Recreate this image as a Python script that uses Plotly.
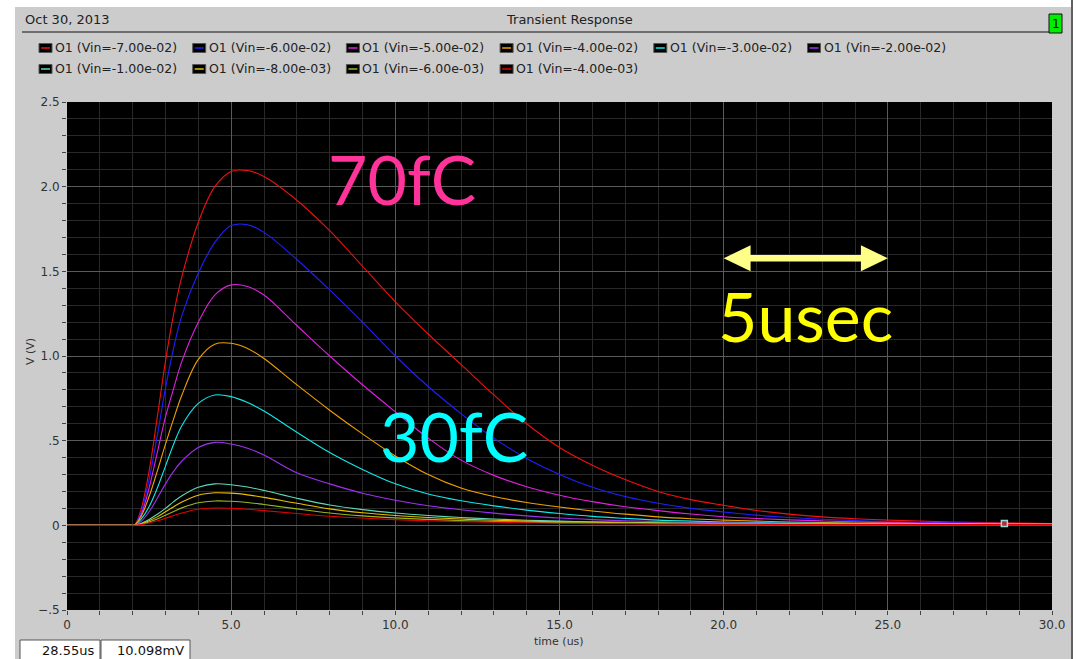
import plotly.graph_objects as go

# ---------------- data ----------------
time_us = [0, 1, 1.95, 2.05, 2.25, 2.5, 2.75, 3.0, 3.25, 3.5, 4.0, 4.5, 5.0, 5.5,
           6, 7, 8, 9, 10, 11, 12, 13, 14, 15, 16, 17, 18, 19, 20,
           21, 22, 23, 24, 25, 26, 27, 28, 29, 30]

vin_labels = ["-7.00e-02", "-6.00e-02", "-5.00e-02", "-4.00e-02", "-3.00e-02",
              "-2.00e-02", "-1.00e-02", "-8.00e-03", "-6.00e-03", "-4.00e-03"]

v_m70 = [0, 0, 0, 0, 0.09, 0.32, 0.64, 0.97, 1.25, 1.47, 1.79, 2.00, 2.09, 2.095,
         2.06, 1.92, 1.74, 1.53, 1.32, 1.13, 0.95, 0.77, 0.60, 0.46, 0.355, 0.27,
         0.20, 0.152, 0.118, 0.088, 0.066, 0.05, 0.039, 0.031, 0.025, 0.02, 0.016, 0.013, 0.011]
v_m60 = [0, 0, 0, 0, 0.075, 0.27, 0.53, 0.81, 1.05, 1.24, 1.49, 1.67, 1.77, 1.775,
         1.73, 1.57, 1.39, 1.20, 1.00, 0.82, 0.66, 0.515, 0.395, 0.30, 0.225, 0.17,
         0.13, 0.10, 0.079, 0.06, 0.046, 0.036, 0.028, 0.022, 0.018, 0.015, 0.012, 0.011, 0.010]
v_m50 = [0, 0, 0, 0, 0.06, 0.22, 0.43, 0.64, 0.81, 0.97, 1.20, 1.36, 1.42, 1.41,
         1.36, 1.18, 1.00, 0.83, 0.67, 0.515, 0.385, 0.295, 0.228, 0.178, 0.14, 0.11,
         0.087, 0.067, 0.051, 0.04, 0.032, 0.026, 0.021, 0.017, 0.014, 0.012, 0.011, 0.010, 0.009]
v_m40 = [0, 0, 0, 0, 0.05, 0.17, 0.32, 0.48, 0.63, 0.77, 0.98, 1.07, 1.075, 1.045,
         0.985, 0.83, 0.68, 0.54, 0.41, 0.30, 0.22, 0.17, 0.135, 0.108, 0.085, 0.066,
         0.05, 0.039, 0.031, 0.025, 0.02, 0.017, 0.014, 0.012, 0.011, 0.010, 0.009, 0.008, 0.008]
v_m30 = [0, 0, 0, 0, 0.035, 0.11, 0.22, 0.35, 0.48, 0.59, 0.72, 0.77, 0.76, 0.725,
         0.675, 0.55, 0.43, 0.33, 0.245, 0.185, 0.145, 0.115, 0.09, 0.07, 0.053, 0.041,
         0.031, 0.025, 0.02, 0.017, 0.014, 0.012, 0.011, 0.010, 0.009, 0.008, 0.008, 0.007, 0.007]
v_m20 = [0, 0, 0, 0, 0.022, 0.08, 0.16, 0.245, 0.32, 0.38, 0.46, 0.49, 0.48, 0.455,
         0.415, 0.31, 0.245, 0.19, 0.148, 0.116, 0.092, 0.072, 0.056, 0.043, 0.034, 0.027,
         0.022, 0.018, 0.015, 0.013, 0.011, 0.010, 0.009, 0.008, 0.007, 0.007, 0.006, 0.006, 0.006]
v_m10 = [0, 0, 0, 0, 0.011, 0.035, 0.065, 0.10, 0.14, 0.175, 0.225, 0.245, 0.24, 0.226,
         0.206, 0.16, 0.12, 0.093, 0.073, 0.058, 0.046, 0.037, 0.03, 0.025, 0.021, 0.018,
         0.015, 0.013, 0.012, 0.011, 0.010, 0.009, 0.009, 0.008, 0.008, 0.007, 0.007, 0.006, 0.006]
v_m8 = [0, 0, 0, 0, 0.008, 0.027, 0.05, 0.08, 0.11, 0.138, 0.178, 0.192, 0.19, 0.18,
        0.165, 0.13, 0.097, 0.074, 0.058, 0.046, 0.037, 0.03, 0.025, 0.021, 0.018, 0.015,
        0.013, 0.011, 0.010, 0.009, 0.008, 0.008, 0.007, 0.007, 0.006, 0.006, 0.005, 0.005, 0.005]
v_m6 = [0, 0, 0, 0, 0.006, 0.02, 0.038, 0.06, 0.082, 0.103, 0.133, 0.144, 0.142, 0.135,
        0.123, 0.097, 0.073, 0.056, 0.044, 0.035, 0.028, 0.023, 0.019, 0.016, 0.013, 0.012,
        0.010, 0.009, 0.008, 0.008, 0.007, 0.007, 0.006, 0.006, 0.006, 0.005, 0.005, 0.005, 0.005]
v_m4 = [0, 0, 0, 0, 0.004, 0.014, 0.027, 0.042, 0.058, 0.073, 0.095, 0.102, 0.10, 0.095,
        0.087, 0.07, 0.054, 0.043, 0.034, 0.027, 0.022, 0.018, 0.015, 0.012, 0.010, 0.009,
        0.008, 0.007, 0.006, 0.006, 0.005, 0.005, 0.005, 0.005, 0.004, 0.004, 0.004, 0.004, 0.004]

series = [v_m70, v_m60, v_m50, v_m40, v_m30, v_m20, v_m10, v_m8, v_m6, v_m4]
colors = ["#f01010", "#2020ff", "#e020e0", "#f0a000", "#10e8e8",
          "#a030f0", "#60d8b8", "#e8c000", "#98b820", "#e00000"]

cursor_t = [28.55]
cursor_v = [0.010098]

# ---------------- figure ----------------
W, H = 1079, 659
L, R, T, B = 67, 1052, 102, 610


def xp(px):
    return (px - L) / (R - L)


def yp(py):
    return (B - py) / (B - T)


FONT = "DejaVu Sans"
fig = go.Figure()
for vals, col, lab in zip(series, colors, vin_labels):
    assert len(vals) == len(time_us)
    fig.add_trace(go.Scatter(x=time_us, y=vals, mode="lines", name=f"O1 (Vin={lab})",
                             line=dict(color=col, width=1.1, shape="spline", smoothing=1.0),
                             showlegend=False, hoverinfo="skip"))
fig.add_trace(go.Scatter(x=cursor_t, y=cursor_v, mode="markers", showlegend=False,
                         marker=dict(symbol="square", size=6, color="#b03030",
                                     line=dict(color="#9fd8d8", width=1.5))))

shapes = []
annotations = []
# white page border strips
shapes.append(dict(type="rect", xref="paper", yref="paper", x0=xp(0), x1=xp(15), y0=yp(H), y1=yp(0),
                   fillcolor="white", line=dict(width=0), layer="above"))
shapes.append(dict(type="rect", xref="paper", yref="paper", x0=xp(0), x1=xp(W), y0=yp(7), y1=yp(0),
                   fillcolor="white", line=dict(width=0), layer="above"))
shapes.append(dict(type="rect", xref="paper", yref="paper", x0=xp(1071), x1=xp(W), y0=yp(H), y1=yp(0),
                   fillcolor="white", line=dict(width=0), layer="above"))
shapes.append(dict(type="line", xref="paper", yref="paper", x0=xp(1072), x1=xp(1072), y0=yp(H), y1=yp(0),
                   line=dict(color="#606060", width=2), layer="above"))
# header line & page number box
shapes.append(dict(type="line", xref="paper", yref="paper", x0=xp(22), x1=xp(1049), y0=yp(32), y1=yp(32),
                   line=dict(color="#111111", width=1.2), layer="above"))
shapes.append(dict(type="rect", xref="paper", yref="paper", x0=xp(1049), x1=xp(1062), y0=yp(33), y1=yp(14),
                   fillcolor="#00ee00", line=dict(color="#111111", width=1), layer="above"))
annotations.append(dict(text="1", xref="paper", yref="paper", x=xp(1055.5), y=yp(23.5), showarrow=False,
                        font=dict(family=FONT, size=12, color="#000"), xanchor="center", yanchor="middle"))
annotations.append(dict(text="Oct 30, 2013", xref="paper", yref="paper", x=xp(23), y=yp(19), showarrow=False,
                        font=dict(family=FONT, size=13, color="#222"), xanchor="left", yanchor="middle"))
annotations.append(dict(text="Transient Response", xref="paper", yref="paper", x=xp(569), y=yp(19),
                        showarrow=False, font=dict(family=FONT, size=13, color="#222"),
                        xanchor="center", yanchor="middle"))

# legend (Cadence style: black swatch with coloured line)
for i, (lab, col) in enumerate(zip(vin_labels, colors)):
    row, c = divmod(i, 6)
    bx = 39 + c * 153.7
    by = 48 + row * 21
    shapes.append(dict(type="rect", xref="paper", yref="paper", x0=xp(bx), x1=xp(bx + 13),
                       y0=yp(by + 4.5), y1=yp(by - 4.5), fillcolor="#000000",
                       line=dict(color="#555555", width=1), layer="above"))
    shapes.append(dict(type="line", xref="paper", yref="paper", x0=xp(bx + 2), x1=xp(bx + 11),
                       y0=yp(by), y1=yp(by), line=dict(color=col, width=1.5), layer="above"))
    annotations.append(dict(text=f"O1 (Vin={lab})", xref="paper", yref="paper", x=xp(bx + 14), y=yp(by),
                            showarrow=False, font=dict(family=FONT, size=12.5, color="#222"),
                            xanchor="left", yanchor="middle"))

# axis titles
annotations.append(dict(text="V (V)", xref="paper", yref="paper", x=xp(30), y=yp(352), showarrow=False,
                        textangle=-90, font=dict(family=FONT, size=11, color="#333"),
                        xanchor="center", yanchor="middle"))
annotations.append(dict(text="time (us)", xref="paper", yref="paper", x=xp(559), y=yp(641), showarrow=False,
                        font=dict(family=FONT, size=11, color="#333"), xanchor="center", yanchor="middle"))

# status boxes
for x0, x1, txt in [(20, 100, "28.55us"), (101, 190, "10.098mV")]:
    shapes.append(dict(type="rect", xref="paper", yref="paper", x0=xp(x0), x1=xp(x1), y0=yp(660),
                       y1=yp(640), fillcolor="white", line=dict(color="#555555", width=1), layer="above"))
    annotations.append(dict(text=txt, xref="paper", yref="paper", x=xp(x1 - 4), y=yp(650), showarrow=False,
                            font=dict(family=FONT, size=13, color="#111"), xanchor="right",
                            yanchor="middle"))

# big labels
BIG = "Lato"
annotations.append(dict(text="70fC", x=10.2, y=2.05, xref="x", yref="y", showarrow=False,
                        font=dict(family=BIG, size=68, color="#ff3399"), xanchor="center", yanchor="middle"))
annotations.append(dict(text="30fC", x=11.8, y=0.53, xref="x", yref="y", showarrow=False,
                        font=dict(family=BIG, size=68, color="#00ffff"), xanchor="center", yanchor="middle"))
annotations.append(dict(text="5usec", x=22.5, y=1.24, xref="x", yref="y", showarrow=False,
                        font=dict(family=BIG, size=68, color="#ffff00"), xanchor="center", yanchor="middle"))
# double-headed 5 us arrow
ay, hh, sh, hl = 1.577, 0.077, 0.019, 0.82
path = (f"M 20,{ay} L {20 + hl},{ay + hh} L {20 + hl},{ay + sh} L {25 - hl},{ay + sh} "
        f"L {25 - hl},{ay + hh} L 25,{ay} L {25 - hl},{ay - hh} L {25 - hl},{ay - sh} "
        f"L {20 + hl},{ay - sh} L {20 + hl},{ay - hh} Z")
shapes.append(dict(type="path", xref="x", yref="y", path=path, fillcolor="#ffff88",
                   line=dict(width=0), layer="above"))

tickfont = dict(family=FONT, size=12, color="#333333")
fig.update_layout(
    width=W, height=H,
    margin=dict(l=L, r=W - R, t=T, b=H - B, pad=0),
    paper_bgcolor="#cccccc", plot_bgcolor="#000000",
    shapes=shapes, annotations=annotations,
    xaxis=dict(range=[0, 30], tick0=0, dtick=5, tickformat=".1f", labelalias={"0.0": "0"},
               showgrid=True, gridcolor="#5a5a5a", gridwidth=1, zeroline=False,
               ticks="outside", ticklen=4, tickcolor="#444444", tickfont=tickfont, showline=False,
               minor=dict(tick0=0, dtick=1, showgrid=True, gridcolor="#292929", gridwidth=1,
                          ticks="outside", ticklen=4, tickcolor="#444444")),
    yaxis=dict(range=[-0.5, 2.5], tick0=0, dtick=0.5, tickformat=".1f",
               labelalias={"0.5": ".5", "0.0": "0", "\u22120.5": "\u2212.5", "-0.5": "-.5"},
               showgrid=True, gridcolor="#5a5a5a", gridwidth=1, zeroline=False,
               ticks="outside", ticklen=4, tickcolor="#444444", tickfont=tickfont, showline=False,
               minor=dict(tick0=0, dtick=0.1, showgrid=True, gridcolor="#292929", gridwidth=1,
                          ticks="outside", ticklen=4, tickcolor="#444444")),
)

fig.write_html("out.html")
